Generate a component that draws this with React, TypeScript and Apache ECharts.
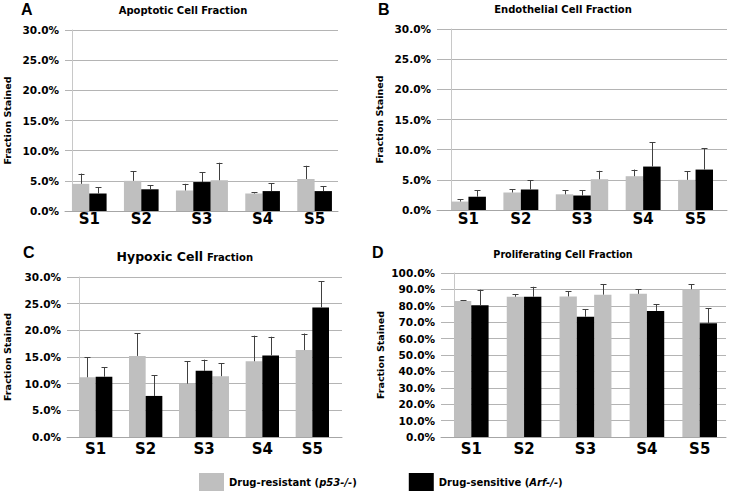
import React, { useEffect, useRef } from 'react';
import * as echarts from 'echarts';

const categories = ['S1', 'S2', 'S3', 'S4', 'S5'];
const resistantName = 'Drug-resistant (p53-/-)';
const sensitiveName = 'Drug-sensitive (Arf-/-)';

// A – Apoptotic
const apoptoticResistant = [4.5, 5.0, 3.4, 2.9, 5.3];
const apoptoticResistantErr = [1.7, 1.6, 1.1, 0.2, 2.2];
const apoptoticSensitive = [2.9, 3.6, 4.8, 3.3, 3.3];
const apoptoticSensitiveErr = [1.0, 0.7, 1.6, 1.3, 0.8];
const apoptoticExtra = [null, null, 5.1, null, null];
const apoptoticExtraErr = [null, null, 2.9, null, null];

// B – Endothelial
const endothelialResistant = [1.4, 2.9, 2.6, 5.6, 5.0];
const endothelialResistantErr = [0.35, 0.5, 0.7, 1.1, 1.4];
const endothelialSensitive = [2.2, 3.4, 2.4, 7.2, 6.7];
const endothelialSensitiveErr = [1.1, 1.5, 0.9, 4.0, 3.5];
const endothelialExtra = [null, null, 5.1, null, null];
const endothelialExtraErr = [null, null, 1.4, null, null];

// C – Hypoxic
const hypoxicResistant = [11.2, 15.2, 10.0, 14.2, 16.3];
const hypoxicResistantErr = [3.8, 4.3, 4.2, 4.8, 3.1];
const hypoxicSensitive = [11.3, 7.7, 12.4, 15.3, 24.3];
const hypoxicSensitiveErr = [1.8, 3.9, 2.1, 3.5, 4.9];
const hypoxicExtra = [null, null, 11.4, null, null];
const hypoxicExtraErr = [null, null, 2.4, null, null];

// D – Proliferating
const proliferatingResistant = [82.9, 85.5, 85.7, 87.3, 90.1];
const proliferatingResistantErr = [0.6, 1.6, 3.3, 2.9, 3.1];
const proliferatingSensitive = [80.3, 85.5, 73.3, 76.9, 69.3];
const proliferatingSensitiveErr = [9.5, 6.1, 4.5, 3.9, 9.1];
const proliferatingExtra = [null, null, 86.8, null, null];
const proliferatingExtraErr = [null, null, 6.4, null, null];

const FONT = 'DejaVu Sans';
const GRAY = '#bfbfbf';
const BLACK = '#000000';
const ERR = '#404040';

const panels = [
  {
    res: apoptoticResistant, resErr: apoptoticResistantErr,
    sen: apoptoticSensitive, senErr: apoptoticSensitiveErr,
    extra: apoptoticExtra, extraErr: apoptoticExtraErr,
    yMax: 30, yInterval: 5,
    grid: { left: 65, top: 30, width: 273, height: 181 },
    padL: 0.4, padR: 0.35, gap: 1, nameGap: 53, xMargin: 0,
  },
  {
    res: endothelialResistant, resErr: endothelialResistantErr,
    sen: endothelialSensitive, senErr: endothelialSensitiveErr,
    extra: endothelialExtra, extraErr: endothelialExtraErr,
    yMax: 30, yInterval: 5,
    grid: { left: 437, top: 29, width: 290, height: 181 },
    padL: 0.8, padR: 0.8, gap: 1, nameGap: 53, xMargin: 1,
  },
  {
    res: hypoxicResistant, resErr: hypoxicResistantErr,
    sen: hypoxicSensitive, senErr: hypoxicSensitiveErr,
    extra: hypoxicExtra, extraErr: hypoxicExtraErr,
    yMax: 30, yInterval: 5,
    grid: { left: 67, top: 277, width: 275, height: 160 },
    padL: 0.72, padR: 0.78, gap: 1, nameGap: 55, xMargin: 4,
  },
  {
    res: proliferatingResistant, resErr: proliferatingResistantErr,
    sen: proliferatingSensitive, senErr: proliferatingSensitiveErr,
    extra: proliferatingExtra, extraErr: proliferatingExtraErr,
    yMax: 100, yInterval: 10,
    grid: { left: 441, top: 273, width: 285, height: 164 },
    padL: 0.75, padR: 0.52, gap: 1.05, nameGap: 56, xMargin: 4,
  },
];

function layout(extra: (number | null)[], gap: number) {
  let pos = 0;
  const resX: number[] = [];
  const senX: number[] = [];
  const extraX: (number | null)[] = [];
  const centers: number[] = [];
  extra.forEach((e) => {
    const n = e != null ? 3 : 2;
    resX.push(pos + 0.5);
    senX.push(pos + 1.5);
    extraX.push(n === 3 ? pos + 2.5 : null);
    centers.push(pos + n / 2);
    pos += n + gap;
  });
  return { resX, senX, extraX, centers, total: pos - gap };
}

function makeRender(color: string) {
  return (params: any, api: any) => {
    const x = api.value(0);
    const v = api.value(1);
    const e = api.value(2);
    const base = api.coord([x, 0]);
    const top = api.coord([x, v]);
    const errTop = api.coord([x, v + e]);
    const w = api.size([1, 0])[0];
    const cx = Math.round(top[0]) + 0.5;
    return {
      type: 'group',
      children: [
        {
          type: 'rect',
          shape: { x: base[0] - w / 2, y: top[1], width: w, height: base[1] - top[1] },
          style: { fill: color },
        },
        {
          type: 'line',
          shape: { x1: cx, y1: top[1], x2: cx, y2: errTop[1] },
          style: { stroke: ERR, lineWidth: 1 },
        },
        {
          type: 'line',
          shape: { x1: cx - 3, y1: Math.round(errTop[1]) + 0.5, x2: cx + 3, y2: Math.round(errTop[1]) + 0.5 },
          style: { stroke: ERR, lineWidth: 1 },
        },
      ],
    };
  };
}

function buildOption() {
  const grids: any[] = [];
  const xAxes: any[] = [];
  const yAxes: any[] = [];
  const series: any[] = [];

  panels.forEach((p, i) => {
    const L = layout(p.extra, p.gap);
    grids.push({ ...p.grid, containLabel: false });
    xAxes.push({
      type: 'value',
      gridIndex: i,
      min: -p.padL,
      max: L.total + p.padR,
      splitLine: { show: false },
      axisTick: { show: false },
      axisLine: { show: true, lineStyle: { color: '#a6a6a6', width: 1 } },
      axisLabel: {
        customValues: L.centers,
        margin: p.xMargin,
        fontFamily: FONT,
        fontWeight: 'bold',
        fontSize: 15,
        color: '#000',
        formatter: (v: number) => {
          const k = L.centers.findIndex((c) => Math.abs(c - v) < 1e-6);
          return k >= 0 ? categories[k] : '';
        },
      },
    });
    yAxes.push({
      type: 'value',
      gridIndex: i,
      min: 0,
      max: p.yMax,
      interval: p.yInterval,
      name: 'Fraction Stained',
      nameLocation: 'middle',
      nameRotate: 90,
      nameGap: p.nameGap,
      nameTextStyle: { fontFamily: FONT, fontWeight: 'bold', fontSize: 9.5, color: '#000' },
      axisLine: { show: true, lineStyle: { color: '#c8c8c8', width: 1 } },
      axisTick: { show: false },
      splitLine: { show: true, lineStyle: { color: '#b4b4b4', width: 1 } },
      axisLabel: {
        margin: 6,
        fontFamily: FONT,
        fontWeight: 'bold',
        fontSize: 10.5,
        color: '#000',
        formatter: (v: number) => v.toFixed(1) + '%',
      },
    });

    const resData: any[] = p.res.map((v, k) => [L.resX[k], v, p.resErr[k]]);
    p.extra.forEach((v, k) => {
      if (v != null) resData.push([L.extraX[k], v, p.extraErr[k]]);
    });
    const senData = p.sen.map((v, k) => [L.senX[k], v, p.senErr[k]]);

    series.push({
      type: 'custom',
      name: resistantName,
      xAxisIndex: i,
      yAxisIndex: i,
      itemStyle: { color: GRAY },
      encode: { x: 0, y: 1 },
      renderItem: makeRender(GRAY),
      data: resData,
      clip: false,
    });
    series.push({
      type: 'custom',
      name: sensitiveName,
      xAxisIndex: i,
      yAxisIndex: i,
      itemStyle: { color: BLACK },
      encode: { x: 0, y: 1 },
      renderItem: makeRender(BLACK),
      data: senData,
      clip: false,
    });
  });

  const letter = (text: string, x: number, y: number) => ({
    type: 'text',
    x,
    y,
    style: {
      text,
      fontFamily: 'Liberation Sans',
      fontWeight: 'bold',
      fontSize: 16,
      fill: '#000',
      textAlign: 'left',
      textVerticalAlign: 'middle',
    },
  });
  const title = (text: string, x: number, y: number, size = 10, align = 'center') => ({
    type: 'text',
    x,
    y,
    style: {
      text,
      fontFamily: FONT,
      fontWeight: 'bold',
      fontSize: size,
      fill: '#000',
      textAlign: align,
      textVerticalAlign: 'middle',
    },
  });

  return {
    animation: false,
    backgroundColor: '#ffffff',
    grid: grids,
    xAxis: xAxes,
    yAxis: yAxes,
    series,
    legend: {
      data: [resistantName, sensitiveName],
      left: 199,
      top: 473,
      padding: 0,
      itemWidth: 25,
      itemHeight: 18,
      itemGap: 52,
      icon: 'rect',
      selectedMode: false,
      formatter: (name: string) => name.replace(/\((.*)\)/, '({i|$1})'),
      textStyle: {
        fontFamily: FONT,
        fontWeight: 'bold',
        fontSize: 10,
        color: '#000',
        rich: {
          i: { fontFamily: FONT, fontWeight: 'bold', fontStyle: 'italic', fontSize: 10, color: '#000' },
        },
      },
    },
    graphic: [
      letter('A', 21, 9.5),
      letter('B', 378, 9),
      letter('C', 23, 252.5),
      letter('D', 372, 252.5),
      title('Apoptotic Cell Fraction', 183, 10),
      title('Endothelial Cell Fraction', 563, 9.7),
      title('Hypoxic Cell', 203, 256.2, 12.5, 'right'),
      title('Fraction', 207, 257, 10, 'left'),
      title('Proliferating Cell Fraction', 563, 254.7, 9.6),
    ],
  };
}

export default function App() {
  const ref = useRef<HTMLDivElement>(null);
  useEffect(() => {
    if (!ref.current) return;
    const chart = echarts.init(ref.current, undefined, { renderer: 'svg' });
    chart.setOption(buildOption() as any);
    return () => chart.dispose();
  }, []);
  return (
    <div
      ref={ref}
      style={{ position: 'fixed', left: 0, top: 0, width: 730, height: 492, background: '#fff' }}
    />
  );
}
